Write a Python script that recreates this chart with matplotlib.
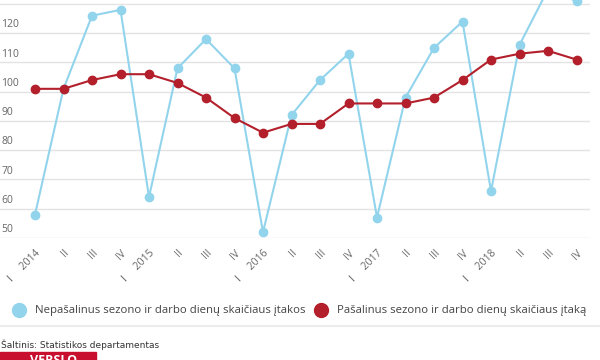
import matplotlib
matplotlib.use("Agg")
from matplotlib import pyplot as plt
from matplotlib.lines import Line2D
from matplotlib.patches import Rectangle

#########################
# DATA
YEARS = [2014, 2015, 2016, 2017, 2018]
QUARTERS = ["I", "II", "III", "IV"]
RAW = [58, 101, 126, 128,
       64, 108, 118, 108,
       52, 92, 104, 113,
       57, 98, 115, 124,
       66, 116, 135, 131]
ADJUSTED = [101, 101, 104, 106,
            106, 103, 98, 91,
            86, 89, 89, 96,
            96, 96, 98, 104,
            111, 113, 114, 111]
Y_TICKS = [50, 60, 70, 80, 90, 100, 110, 120, 130]
LABEL_RAW = "Nepašalinus sezono ir darbo dienų skaičiaus įtakos"
LABEL_ADJ = "Pašalinus sezono ir darbo dienų skaičiaus įtaką"
SOURCE = "Šaltinis: Statistikos departamentas"

#########################
# STYLE
BLUE = "#92d4ec"
RED = "#b3202c"
GRID = "#e3e3e3"
TEXT = "#666666"
plt.rcParams["font.family"] = ["Open Sans", "DejaVu Sans"]

tick_labels = []
for y in YEARS:
    for q in QUARTERS:
        tick_labels.append(f"I     {y}" if q == "I" else q)
xs = list(range(len(RAW)))

fig = plt.figure(figsize=(6, 3.6), dpi=100)
ax = fig.add_axes([0.0, 1 - 238 / 360, 590 / 600, 238 / 360])

for t in Y_TICKS:
    ax.axhline(t, color=GRID, lw=1.0, zorder=0)
    ax.text(0.002, t + 1.0, str(t), transform=ax.get_yaxis_transform(),
            ha="left", va="bottom", fontsize=7.5, color=TEXT)

ax.plot(xs, RAW, color=BLUE, lw=1.5, marker="o", ms=6, zorder=3)
ax.plot(xs, ADJUSTED, color=RED, lw=1.5, marker="o", ms=6, zorder=4)

ax.set_xlim(-35 / 28.5, (590 - 35) / 28.5)
ax.set_ylim(50, 50 + 238 / 2.925)
ax.set_xticks(xs)
ax.set_xticklabels(tick_labels, rotation=45, ha="right", va="top",
                   rotation_mode="anchor", fontsize=7.5, color=TEXT)
ax.tick_params(axis="x", length=0, pad=7)
ax.set_yticks([])
for s in ax.spines.values():
    s.set_visible(False)

handles = [
    Line2D([], [], color=BLUE, marker="o", ls="none", ms=10),
    Line2D([], [], color=RED, marker="o", ls="none", ms=10),
]
fig.legend(handles, [LABEL_RAW, LABEL_ADJ], loc="center",
           bbox_to_anchor=(0.5, 1 - 311 / 360), ncol=2, frameon=False,
           fontsize=8.2, labelcolor="#444444", handletextpad=0.9,
           columnspacing=0.9, handlelength=1.0)

fig.add_artist(Line2D([0, 1], [1 - 326 / 360] * 2, color="#ececec", lw=1.5,
                      transform=fig.transFigure))
fig.text(0.002, 1 - 345 / 360, SOURCE, ha="left", va="center", fontsize=6.5,
         color="#333333", family=["Liberation Sans Narrow", "DejaVu Sans"])

fig.add_artist(Rectangle((0, 0), 96 / 600, 8 / 360, color="#c8102e",
                         transform=fig.transFigure))
fig.text(30 / 600, 6.5 / 360, "VERSLO", ha="left", va="top", fontsize=9,
         color="white", weight="bold")

fig.savefig("out.png", dpi=100)
